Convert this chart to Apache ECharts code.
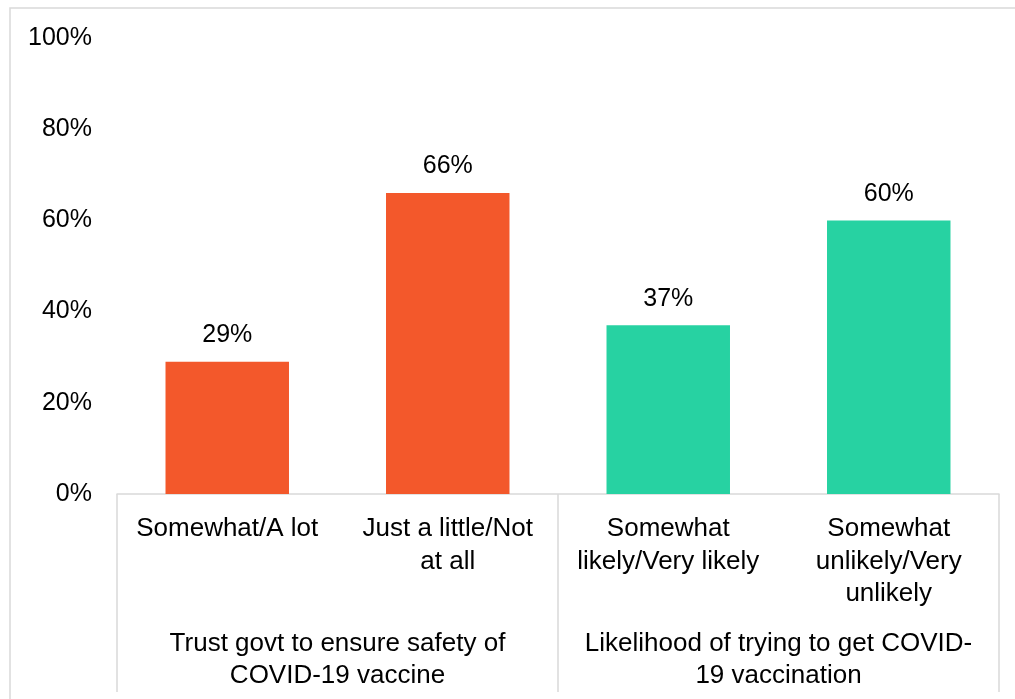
<!DOCTYPE html>
<html>
<head>
<meta charset="utf-8">
<script src="https://cdn.jsdelivr.net/npm/echarts@6/dist/echarts.min.js"></script>
<style>
html,body{margin:0;padding:0;background:#fff;}
#chart{width:1015px;height:699px;}
</style>
</head>
<body>
<div id="chart"></div>
<script>
const categories = ['Somewhat/A lot', 'Just a little/Not\nat all', 'Somewhat\nlikely/Very likely', 'Somewhat\nunlikely/Very\nunlikely'];
const values = [29, 66, 37, 60];
const groupLabels = ['Trust govt to ensure safety of\nCOVID-19 vaccine', 'Likelihood of trying to get COVID-\n19 vaccination'];
const groupOfCategory = [0, 0, 1, 1];
const groupColors = ['#F3582B', '#27D2A2'];
const yTicks = [0, 20, 40, 60, 80, 100];

const FONT = 'Liberation Sans';
const chart = echarts.init(document.getElementById('chart'), null, {renderer: 'canvas'});
chart.setOption({
  animation: false,
  backgroundColor: '#fff',
  textStyle: {fontFamily: FONT},
  graphic: [{
    type: 'rect', shape: {x: 10, y: 8, width: 1020, height: 720},
    style: {fill: 'none', stroke: '#d9d9d9', lineWidth: 1.5}, silent: true, z: -1
  }],
  grid: {left: 117, right: 16, top: 38, bottom: 205},
  xAxis: [{
    type: 'category',
    data: categories,
    position: 'bottom',
    axisLine: {show: true, lineStyle: {color: '#d9d9d9', width: 1.5}},
    axisTick: {show: false},
    axisLabel: {color: '#000', fontSize: 26, lineHeight: 32.5, margin: 19, interval: 0, fontFamily: FONT}
  }, {
    type: 'category',
    data: groupLabels,
    position: 'bottom',
    axisLine: {show: false},
    axisTick: {show: true, length: 198, lineStyle: {color: '#d9d9d9', width: 1.5}},
    axisLabel: {color: '#000', fontSize: 26, lineHeight: 32, margin: 134, interval: 0, fontFamily: FONT}
  }],
  yAxis: {
    type: 'value', min: yTicks[0], max: yTicks[yTicks.length - 1], interval: 20,
    axisLine: {show: false}, axisTick: {show: false}, splitLine: {show: false},
    axisLabel: {color: '#000', fontSize: 25, margin: 25, formatter: '{value}%', fontFamily: FONT, padding: [4, 0, 0, 0]}
  },
  series: [{
    type: 'bar',
    xAxisIndex: 0,
    barWidth: '56%',
    data: values.map((v, i) => ({value: v, itemStyle: {color: groupColors[groupOfCategory[i]]}})),
    label: {show: true, position: 'top', distance: 14, formatter: '{c}%', color: '#000', fontSize: 25, fontFamily: FONT}
  }]
});
</script>
</body>
</html>
